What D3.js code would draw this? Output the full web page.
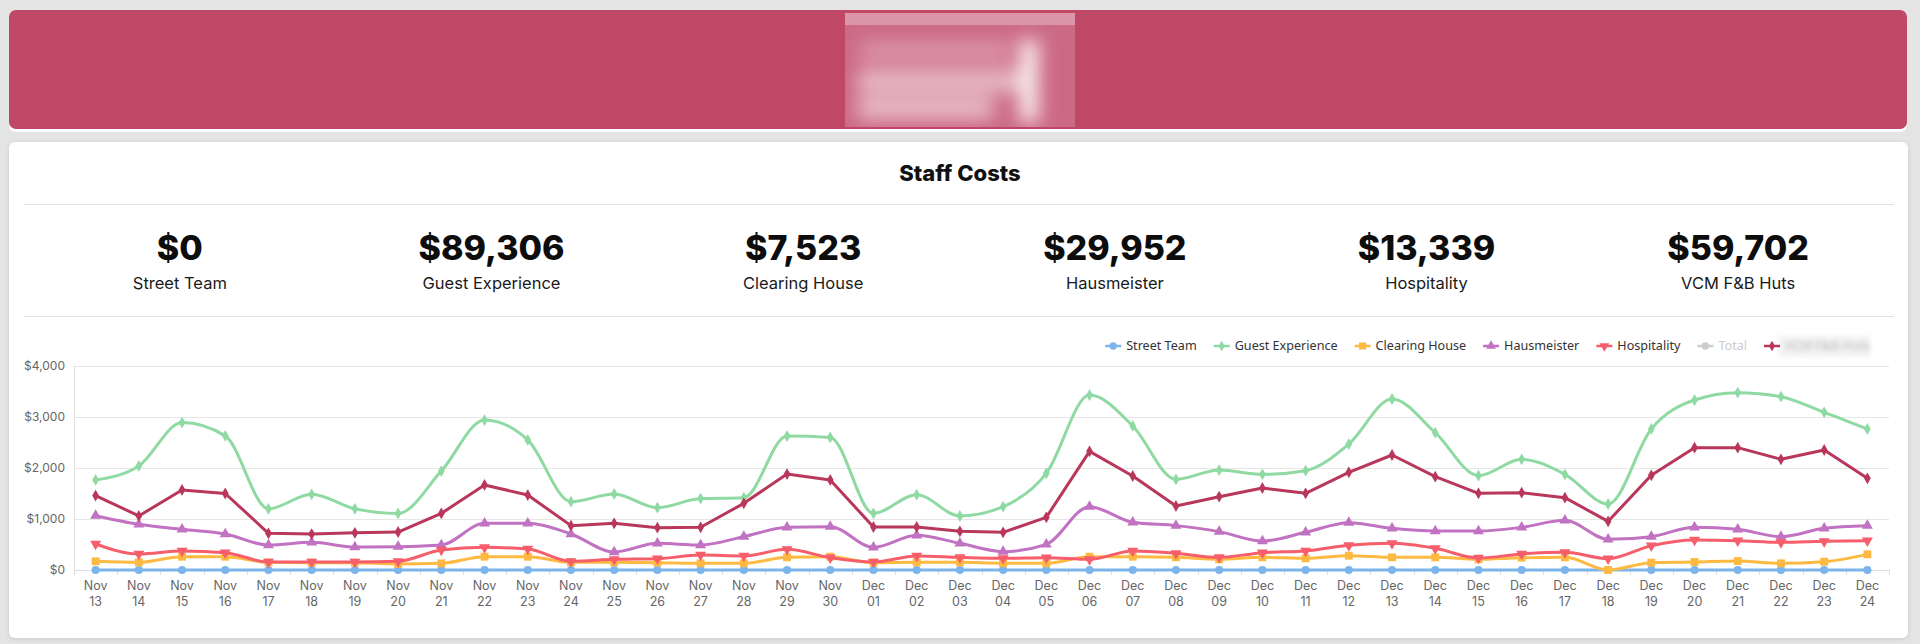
<!DOCTYPE html>
<html>
<head>
<meta charset="utf-8">
<script src="https://cdn.jsdelivr.net/npm/d3@7"></script>
<style>
  body { margin: 0; background: #e4e4e4; }
  svg { display: block; }
</style>
</head>
<body>
<svg id="page"></svg>
<script>
let width = 1920, height = 644;

// --- data ---
let days = ["Nov 13","Nov 14","Nov 15","Nov 16","Nov 17","Nov 18","Nov 19","Nov 20","Nov 21","Nov 22",
  "Nov 23","Nov 24","Nov 25","Nov 26","Nov 27","Nov 28","Nov 29","Nov 30","Dec 01","Dec 02",
  "Dec 03","Dec 04","Dec 05","Dec 06","Dec 07","Dec 08","Dec 09","Dec 10","Dec 11","Dec 12",
  "Dec 13","Dec 14","Dec 15","Dec 16","Dec 17","Dec 18","Dec 19","Dec 20","Dec 21","Dec 22",
  "Dec 23","Dec 24"];

let streetTeam = days.map(() => 0);
let guestExperience = [1765,2040,2890,2630,1200,1485,1200,1110,1940,2940,2550,1340,1490,1222,1400,1418,2627,2600,
  1111,1477,1059,1242,1895,3431,2824,1778,1960,1876,1948,2470,3353,2693,1850,2170,1876,1294,2765,3333,3477,3399,3091,2765];
let clearingHouse = [170,150,261,261,150,144,144,118,130,261,261,150,150,144,131,131,248,261,
  144,150,150,131,131,261,261,248,209,248,229,281,248,248,209,242,248,0,144,157,176,131,163,307];
let hausmeister = [1065,895,797,706,490,542,450,457,490,915,915,706,353,523,490,654,837,850,
  444,680,523,360,503,1242,935,870,752,569,739,928,817,765,765,837,974,601,654,837,797,654,817,869];
let hospitality = [510,314,372,340,157,157,157,170,392,444,412,170,209,222,294,275,405,242,
  157,275,248,229,242,209,373,327,248,340,373,484,523,425,235,314,346,222,477,588,575,542,562,575];
let vcmHuts = [1460,1060,1570,1500,720,705,730,745,1110,1667,1470,870,915,830,837,1307,1882,1765,
  843,843,758,739,1033,2327,1843,1255,1438,1608,1503,1915,2255,1830,1503,1516,1418,954,1856,2399,2399,2170,2353,1797];

let kpiLabels = ["Street Team","Guest Experience","Clearing House","Hausmeister","Hospitality","VCM F&B Huts"];
let kpiValues = [0, 89306, 7523, 29952, 13339, 59702];

let yTicks = [0, 1000, 2000, 3000, 4000];

let series = [
  { name: "Street Team", values: streetTeam, color: "#7cb5ec", symbol: "circle", curve: "spline" },
  { name: "Guest Experience", values: guestExperience, color: "#8fd9a2", symbol: "diamond", curve: "spline" },
  { name: "Clearing House", values: clearingHouse, color: "#fdb941", symbol: "square", curve: "spline" },
  { name: "Hausmeister", values: hausmeister, color: "#c172c2", symbol: "triangle", curve: "spline" },
  { name: "Hospitality", values: hospitality, color: "#f65e6b", symbol: "triangle-down", curve: "spline" },
  { name: "Total", values: null, color: "#cccccc", symbol: "circle", curve: "spline", hidden: true },
  { name: "VCM F&B Huts", values: vcmHuts, color: "#b8375a", symbol: "diamond", curve: "line", blurred: true }
];

let svg = d3.select("#page").attr("width", width).attr("height", height);

let defs = svg.append("defs");
defs.append("filter").attr("id", "blur").attr("x", "-30%").attr("y", "-30%").attr("width", "160%").attr("height", "160%")
  .append("feGaussianBlur").attr("stdDeviation", 9);
defs.append("filter").attr("id", "blurSmall").attr("x", "-20%").attr("y", "-50%").attr("width", "140%").attr("height", "200%")
  .append("feGaussianBlur").attr("stdDeviation", 2.5);
let sh = defs.append("filter").attr("id", "shadow").attr("x", "-5%").attr("y", "-5%").attr("width", "110%").attr("height", "110%");
sh.append("feDropShadow").attr("dx", 0).attr("dy", 1).attr("stdDeviation", 2).attr("flood-color", "#000").attr("flood-opacity", 0.12);
defs.append("clipPath").attr("id", "logoClip").append("rect")
  .attr("x", 845).attr("y", 13).attr("width", 230).attr("height", 114);

// header banner
svg.append("rect").attr("x", 9).attr("y", 12).attr("width", 1898).attr("height", 120)
  .attr("rx", 7).attr("fill", "#ffffff");
svg.append("rect").attr("x", 9).attr("y", 10).attr("width", 1898).attr("height", 119)
  .attr("rx", 7).attr("fill", "#be4866");

// blurred logo
let logo = svg.append("g").attr("clip-path", "url(#logoClip)");
logo.append("rect").attr("x", 845).attr("y", 13).attr("width", 230).attr("height", 114).attr("fill", "#cc6a86");
logo.append("rect").attr("x", 845).attr("y", 13).attr("width", 230).attr("height", 12).attr("fill", "#dc95a8");
let lg = logo.append("g").attr("filter", "url(#blur)").attr("fill", "#fff");
lg.append("rect").attr("x", 860).attr("y", 42).attr("width", 150).attr("height", 18).attr("opacity", 0.3);
lg.append("rect").attr("x", 858).attr("y", 70).attr("width", 165).attr("height", 22).attr("opacity", 0.55);
lg.append("rect").attr("x", 858).attr("y", 97).attr("width", 135).attr("height", 22).attr("opacity", 0.55);
lg.append("rect").attr("x", 1020).attr("y", 40).attr("width", 18).attr("height", 82).attr("opacity", 0.9);

// card
svg.append("rect").attr("x", 9).attr("y", 142).attr("width", 1899).attr("height", 496)
  .attr("rx", 6).attr("fill", "#fff").attr("filter", "url(#shadow)");

// title
svg.append("text").attr("x", 960).attr("y", 181).attr("text-anchor", "middle")
  .attr("font-family", "Inter, sans-serif").attr("font-weight", 800).attr("font-size", 22)
  .attr("fill", "#111").text("Staff Costs");

svg.selectAll(".divider").data([204, 316]).enter().append("line")
  .attr("x1", 24).attr("x2", 1894).attr("y1", d => d + 0.5).attr("y2", d => d + 0.5)
  .attr("stroke", "#e2e2e2").attr("stroke-width", 1);

// KPI row
let kpiX = d3.scaleBand().domain(kpiLabels).range([24, 1894]);
let money = d3.format("$,.0f");
let kpi = svg.selectAll(".kpi").data(kpiLabels).enter().append("g")
  .attr("transform", d => `translate(${kpiX(d) + kpiX.bandwidth() / 2},0)`);
kpi.append("text").attr("y", 260).attr("text-anchor", "middle")
  .attr("font-family", "Inter, sans-serif").attr("font-weight", 800).attr("font-size", 34)
  .attr("fill", "#0d0d0d").text((d, i) => money(kpiValues[i]));
kpi.append("text").attr("y", 289).attr("text-anchor", "middle")
  .attr("font-family", "Inter, sans-serif").attr("font-weight", 400).attr("font-size", 16.5)
  .attr("fill", "#1a1a1a").text(d => d);

// chart scales
let x = d3.scaleBand().domain(days).range([74, 1889]);
let y = d3.scaleLinear().domain([0, 4000]).range([570, 366]);
let cx = d => x(d) + x.bandwidth() / 2;

let chart = svg.append("g");

chart.selectAll(".grid").data(yTicks).enter().append("line")
  .attr("x1", 74).attr("x2", 1889).attr("y1", d => Math.round(y(d)) + 0.5).attr("y2", d => Math.round(y(d)) + 0.5)
  .attr("stroke", "#e6e6e6");

chart.append("line").attr("x1", 74.5).attr("x2", 74.5).attr("y1", 366).attr("y2", 575).attr("stroke", "#e0e0e0");

chart.selectAll(".ylab").data(yTicks).enter().append("text")
  .attr("x", 65).attr("y", d => y(d)).attr("dy", "0.35em").attr("text-anchor", "end")
  .attr("font-family", "Inter, sans-serif").attr("font-size", 12).attr("fill", "#666")
  .text(d => money(d));

// x ticks at band boundaries
let bounds = d3.range(days.length + 1).map(i => 74 + i * x.bandwidth());
chart.selectAll(".xtick").data(bounds).enter().append("line")
  .attr("x1", d => Math.round(d) + 0.5).attr("x2", d => Math.round(d) + 0.5).attr("y1", 570).attr("y2", 575)
  .attr("stroke", "#ddd");
chart.append("line").attr("x1", 74).attr("x2", 1889).attr("y1", 570.5).attr("y2", 570.5).attr("stroke", "#dcdcdc");

let xl = chart.selectAll(".xlab").data(days).enter().append("text")
  .attr("text-anchor", "middle").attr("font-family", "Inter, sans-serif").attr("font-size", 12.5).attr("fill", "#666");
xl.append("tspan").attr("x", cx).attr("y", 590).text(d => d.split(" ")[0]);
xl.append("tspan").attr("x", cx).attr("y", 606).text(d => d.split(" ")[1]);

// series
let symbolOf = {
  "circle": { type: d3.symbolCircle, size: 52, rot: 0 },
  "diamond": { type: d3.symbolDiamond, size: 40, rot: 0 },
  "square": { type: d3.symbolSquare, size: 62, rot: 0 },
  "triangle": { type: d3.symbolTriangle, size: 52, rot: 0 },
  "triangle-down": { type: d3.symbolTriangle, size: 52, rot: 180 }
};

series.filter(s => !s.hidden).forEach(s => {
  let line = d3.line()
    .x((d, i) => cx(days[i]))
    .y(d => y(d))
    .curve(s.curve === "spline" ? d3.curveMonotoneX : d3.curveLinear);
  chart.append("path").datum(s.values).attr("d", line)
    .attr("fill", "none").attr("stroke", s.color).attr("stroke-width", 3)
    .attr("stroke-linejoin", "round").attr("stroke-linecap", "round");
  let sym = symbolOf[s.symbol];
  chart.selectAll(null).data(s.values).enter().append("path")
    .attr("d", d3.symbol().type(sym.type).size(sym.size))
    .attr("transform", (d, i) => `translate(${cx(days[i])},${y(d)}) rotate(${sym.rot})`)
    .attr("fill", s.color);
});

// legend, right aligned
let legend = svg.append("g").attr("font-family", "'Noto Sans', sans-serif").attr("font-size", 12.6);
let items = legend.selectAll(".item").data(series).enter().append("g");
items.append("text").attr("x", 21).attr("y", 346).attr("dy", "0.35em")
  .attr("fill", d => d.hidden ? "#cccccc" : "#333")
  .attr("filter", d => d.blurred ? "url(#blurSmall)" : null)
  .attr("opacity", d => d.blurred ? 0.3 : 1)
  .text(d => d.name);
items.append("line").attr("x1", 0).attr("x2", 16).attr("y1", 346).attr("y2", 346)
  .attr("stroke", d => d.color).attr("stroke-width", 2.5);
items.append("path")
  .attr("d", d => d3.symbol().type(symbolOf[d.symbol].type).size(symbolOf[d.symbol].size * 0.8)())
  .attr("transform", d => `translate(8,346) rotate(${symbolOf[d.symbol].rot})`)
  .attr("fill", d => d.color);

let widths = [];
items.each(function () { widths.push(21 + d3.select(this).select("text").node().getComputedTextLength()); });
let total = d3.sum(widths) + 17 * (widths.length - 1);
let pos = 1870 - total;
items.attr("transform", (d, i) => {
  let t = `translate(${pos},0)`;
  pos += widths[i] + 17;
  return t;
});
// the last legend label is blurred in the picture: soft box behind it
let last = items.filter(d => d.blurred);
last.insert("rect", "text").attr("x", 14).attr("y", 336).attr("width", 92).attr("height", 21)
  .attr("fill", "#efefef").attr("filter", "url(#blurSmall)").attr("opacity", 0.8);
</script>
</body>
</html>
